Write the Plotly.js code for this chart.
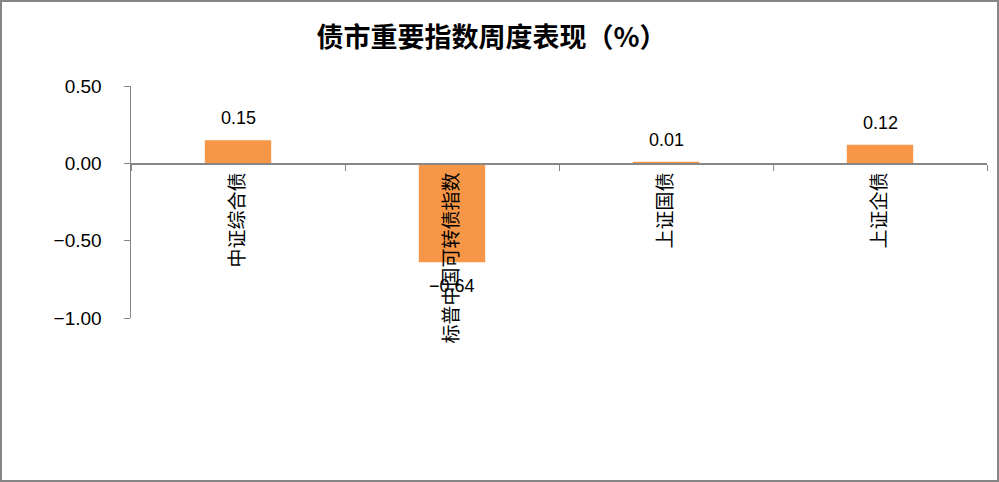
<!DOCTYPE html>
<html>
<head>
<meta charset="utf-8">
<script src="https://cdn.plot.ly/plotly-3.0.1.min.js"></script>
<style>
  body { margin: 0; background: #fff; }
  #wrap { position: relative; width: 999px; height: 482px; }
  #plot { width: 999px; height: 482px; }
  #frame {
    position: absolute; left: 0; top: 0; width: 999px; height: 482px;
    box-sizing: border-box; border: 2px solid #868686; pointer-events: none;
  }
</style>
</head>
<body>
<div id="wrap">
  <div id="plot"></div>
  <div id="frame"></div>
</div>
<script>
// weekly change of bond indices, %
const categories = ['中证综合债', '标普中国可转债指数', '上证国债', '上证企债'];
const changes = [0.15, -0.64, 0.01, 0.12];
const yTicks = [0.5, 0, -0.5, -1.0];
const yRange = [-1.0, 0.5];

const barColor = '#F79646';
const axisColor = '#868686';
const numFont = 'Liberation Sans, Arial, sans-serif';
const cjkFont = 'Noto Sans CJK SC, sans-serif';

const traces = [
  {
    x: categories,
    y: changes,
    type: 'bar',
    width: 0.31,
    marker: { color: barColor },
    hoverinfo: 'x+y',
    cliponaxis: false
  }
];

// value labels sit a little away from the bar ends
const labels = categories.map((c, i) => ({
  x: c,
  y: changes[i],
  xref: 'x',
  yref: 'y',
  text: changes[i].toFixed(2).replace('-', '\u2212'),
  showarrow: false,
  yanchor: changes[i] >= 0 ? 'bottom' : 'top',
  yshift: changes[i] >= 0 ? 10 : -12,
  font: { family: numFont, size: 18, color: '#000' }
}));

const layout = {
  width: 999,
  height: 482,
  paper_bgcolor: '#fff',
  plot_bgcolor: '#fff',
  margin: { l: 131, r: 12, t: 86, b: 164 },
  showlegend: false,
  title: {
    text: '债市重要指数周度表现（%）',
    font: { family: cjkFont, size: 27, color: '#000', weight: 'bold' },
    x: 0.492,
    xanchor: 'center',
    y: 0.922,
    yanchor: 'middle'
  },
  xaxis: {
    type: 'category',
    anchor: 'free',
    position: (0 - yRange[0]) / (yRange[1] - yRange[0]),
    showline: true,
    linecolor: axisColor,
    linewidth: 1.5,
    ticks: 'outside',
    tickson: 'boundaries',
    ticklen: 6,
    tickcolor: axisColor,
    tickangle: -90,
    tickfont: { family: cjkFont, size: 19, color: '#000' },
    showgrid: false,
    zeroline: false
  },
  yaxis: {
    range: yRange,
    tickvals: yTicks,
    tickformat: '.2f',
    showline: true,
    linecolor: axisColor,
    linewidth: 1.5,
    ticks: 'outside',
    ticklen: 6,
    tickcolor: axisColor,
    ticklabelstandoff: 18,
    tickfont: { family: numFont, size: 19, color: '#000' },
    showgrid: false,
    zeroline: false
  },
  annotations: labels
};

Plotly.newPlot('plot', traces, layout, { displayModeBar: false, staticPlot: true });
</script>
</body>
</html>
